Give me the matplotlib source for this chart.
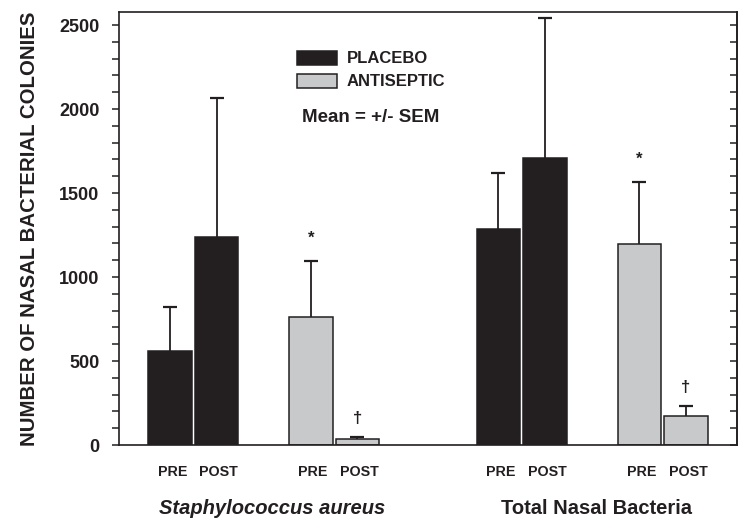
import matplotlib
matplotlib.use("Agg")
import matplotlib.pyplot as plt
from matplotlib.patches import Rectangle
import numpy as np

plt.rcParams['font.family'] = ['Liberation Sans', 'DejaVu Sans']

# ---- data ----
groups = ['Staphylococcus aureus', 'Total Nasal Bacteria']
treatments = ['PLACEBO', 'ANTISEPTIC']
times = ['PRE', 'POST']
placebo_staph = [561, 1236]
placebo_staph_sem = [262, 831]
antiseptic_staph = [760, 36]
antiseptic_staph_sem = [335, 13]
placebo_total = [1286, 1708]
placebo_total_sem = [331, 832]
antiseptic_total = [1194, 173]
antiseptic_total_sem = [373, 61]
marks_staph = ['*', '\u2020']
marks_total = ['*', '\u2020']
yticks = [0, 500, 1000, 1500, 2000, 2500]

black = '#231f20'
gray = '#c8c9cb'
txt = '#231f20'

W, H = 744, 519
fig = plt.figure(figsize=(W / 100, H / 100), dpi=100)
ax = fig.add_axes([119 / W, 1 - 445 / H, (737 - 119) / W, (445 - 11.7) / H])

pair_centers = [0.0, 1.0, 2.333, 3.334]
off = 0.165
width = 0.309
series = [
    (placebo_staph, placebo_staph_sem, black, None),
    (antiseptic_staph, antiseptic_staph_sem, gray, marks_staph),
    (placebo_total, placebo_total_sem, black, None),
    (antiseptic_total, antiseptic_total_sem, gray, marks_total),
]
for c, (vals, sems, col, marks) in zip(pair_centers, series):
    xs = [c - off, c + off]
    ax.bar(xs, vals, width=width, color=col, edgecolor=black, linewidth=1.1, zorder=2)
    eb = ax.errorbar(xs, vals, yerr=[[0, 0], sems], fmt='none', ecolor=black,
                     elinewidth=1.3, capsize=5, capthick=1.6, zorder=3)
    caps = eb.lines[1]
    if len(caps) == 2:
        caps[0].set_visible(False)
    for x, lab in zip(xs, times):
        ax.text(x + 0.015, 1 - (472.3 - 11.7) / (445 - 11.7), lab, transform=ax.get_xaxis_transform(),
                ha='center', va='center', fontsize=10.3, fontweight='bold', color=txt)
    if marks:
        for x, v, s, m in zip(xs, vals, sems, marks):
            ax.annotate(m, (x, v + s), xytext=(0, 11 if m == '*' else 8), textcoords='offset points',
                        ha='center', va='bottom', fontsize=12, fontweight='bold', color=txt)

gy = 1 - (508 - 11.7) / (445 - 11.7)
ax.text((pair_centers[0] + pair_centers[1]) / 2 + 0.058, gy, groups[0],
        transform=ax.get_xaxis_transform(), ha='center', va='center',
        fontsize=14.5, fontweight='bold', style='italic', color=txt)
ax.text((pair_centers[2] + pair_centers[3]) / 2 + 0.03, gy, groups[1],
        transform=ax.get_xaxis_transform(), ha='center', va='center',
        fontsize=14.5, fontweight='bold', color=txt)

ax.set_xlim(-0.529, 3.863)
ax.set_ylim(0, (445 - 11.7) / 0.168)
ax.set_xticks([])
ax.set_yticks(yticks)
ax.set_yticklabels([str(v) for v in yticks], fontsize=13, fontweight='bold', color=txt)
ax.set_yticks(np.arange(0, 2600, 100), minor=True)
ax.tick_params(axis='y', which='both', direction='out', length=5, width=1.1, pad=9,
               left=True, right=False, labelright=False, color=black)
for sp in ax.spines.values():
    sp.set_linewidth(1.2)
    sp.set_color(black)

# right-side inward ticks
sec = ax.secondary_yaxis('right')
sec.set_yticks(yticks)
sec.set_yticks(np.arange(0, 2600, 100), minor=True)
sec.tick_params(axis='y', which='both', direction='in', length=5, width=1.1,
                labelright=False, color=black)
sec.spines['right'].set_linewidth(1.2)
sec.spines['right'].set_color(black)

fig.text(29.5 / W, 1 - 228.5 / H, 'NUMBER OF NASAL BACTERIAL COLONIES', rotation=90,
         ha='center', va='center', fontsize=14.7, fontweight='bold', color=txt)


# legend, drawn manually
def px(x, y):
    return x / W, 1 - y / H


for (ytop, ybot, col), lab in zip([(50.7, 65, black), (74, 88.3, gray)], treatments):
    x0f, y0f = px(297.3, ybot)
    x1f, y1f = px(336.7, ytop)
    fig.patches.append(Rectangle((x0f, y0f), x1f - x0f, y1f - y0f, transform=fig.transFigure,
                                 facecolor=col, edgecolor=black, linewidth=1.1))
    tx, ty = px(346.7, (ytop + ybot) / 2 + 0.5)
    fig.text(tx, ty, lab, ha='left', va='center', fontsize=12, fontweight='bold', color=txt)
mx, my = px(371, 117.3)
fig.text(mx, my, 'Mean = +/- SEM', ha='center', va='center', fontsize=13.5, fontweight='bold', color=txt)

fig.savefig('out.png', dpi=100)
